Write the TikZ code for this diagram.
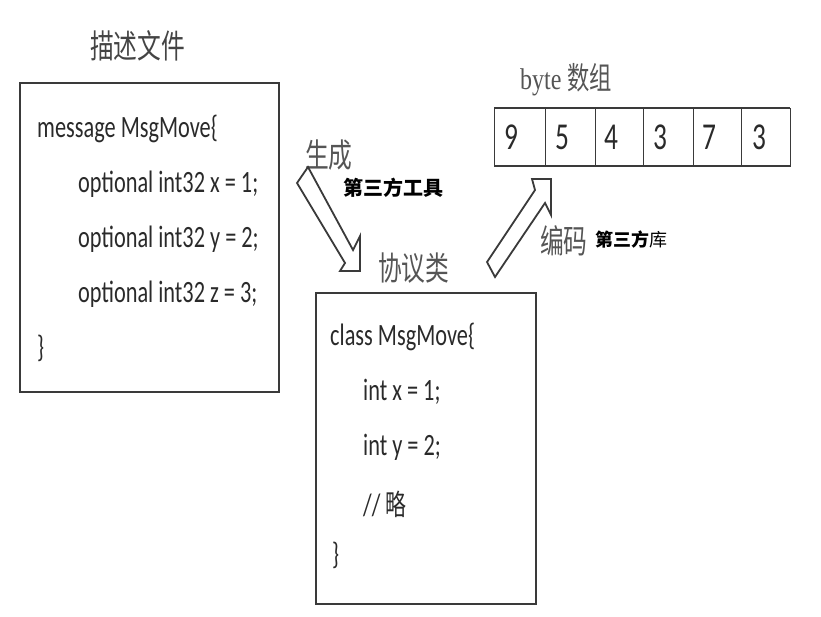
\documentclass[tikz,border=0pt]{standalone}
\usepackage{fontspec}
\setmainfont{Carlito}
\newfontfamily\codefont[FakeStretch=0.72]{Carlito}
\newfontfamily\cjkfont[FakeStretch=0.72]{Noto Sans CJK SC}
\newfontfamily\cjkplain{Noto Sans CJK SC}
\newfontfamily\serifc[FakeStretch=0.8]{Liberation Serif}
\definecolor{ink}{HTML}{2A2A2A}
\definecolor{title}{HTML}{555555}
\definecolor{frame}{HTML}{3A3A3A}
\begin{document}
\begin{tikzpicture}[x=1pt,y=-1pt,
  code/.style={anchor=west,inner sep=0pt,text=ink,font=\codefont\fontsize{31}{33}\selectfont,text height=22pt,text depth=8pt},
  ttl/.style={anchor=west,inner sep=0pt,text=title,font=\cjkfont\fontsize{33}{35}\selectfont},
  note/.style={anchor=west,inner sep=0pt,text=black,font=\cjkplain\fontsize{20}{22}\selectfont},
  boxf/.style={draw=frame,line width=1.6pt},
  cell/.style={text=ink,font=\codefont\fontsize{38}{40}\selectfont},
  blockarrow/.style={draw=frame,line width=1.8pt,line join=miter,fill=white}
]
\useasboundingbox (0,0) rectangle (821,616);

% titles
\node[ttl,text=title!80!black] (t1) at (90,46) {描述文件};
\node[ttl] (t2) at (305,155) {生成};
\node[ttl] (t3) at (378,268) {协议类};
\node[ttl] (t4) at (540,241) {编码};
\node[anchor=west,inner sep=0pt,text=title,font=\serifc\fontsize{30}{32}\selectfont] (t5) at (520,80) {byte {\cjkfont\fontsize{31}{33}\selectfont 数组}};
\node[note] (n1) at (343,188) {\textbf{第三方工具}};
\node[note,font=\cjkplain\fontsize{18}{20}\selectfont] (n2) at (595,240) {\textbf{第三方}库};

% left box
\draw[boxf] (20,83) rectangle (279,392);
\node[code] (a1) at (37,130) {message MsgMove\{};
\node[code] (a2) at (78,185) {optional int32 x = 1;};
\node[code] (a3) at (78,240) {optional int32 y = 2;};
\node[code] (a4) at (78,295) {optional int32 z = 3;};
\node[code] (a5) at (37,350) {\}};

% right box
\draw[boxf] (316,293) rectangle (536,604);
\node[code] (b1) at (330,338) {class MsgMove\{};
\node[code] (b2) at (363,393) {int x = 1;};
\node[code] (b3) at (363,448) {int y = 2;};
\node[code] (b4) at (363,508) {// {\cjkfont\fontsize{29}{31}\selectfont 略}};
\node[code] (b5) at (332,557) {\}};

% byte array
\draw[draw=frame,line width=1pt] (494,108) rectangle (790,166);
\draw[draw=frame,line width=2.2pt] (494,108) -- (790,108);
\draw[draw=frame,line width=2.2pt] (494,166) -- (790,166);
\foreach \xx in {545,595,643,693,741} \draw[draw=frame,line width=1pt] (\xx,108) -- (\xx,166);
\node[cell] (c1) at (511,137) {9};
\node[cell] (c2) at (562,137) {5};
\node[cell] (c3) at (611,137) {4};
\node[cell] (c4) at (660,137) {3};
\node[cell] (c5) at (709,137) {7};
\node[cell] (c6) at (759,137) {3};

% block arrows
\draw[blockarrow] (308,167) -- (353,250) -- (360,236) -- (360,271) -- (340,271) -- (345,263) -- (297,183) -- cycle;
\draw[blockarrow] (495,277) -- (545,203) -- (551,215) -- (551,179) -- (532,179) -- (535,190) -- (487,262) -- cycle;
\end{tikzpicture}
\end{document}
